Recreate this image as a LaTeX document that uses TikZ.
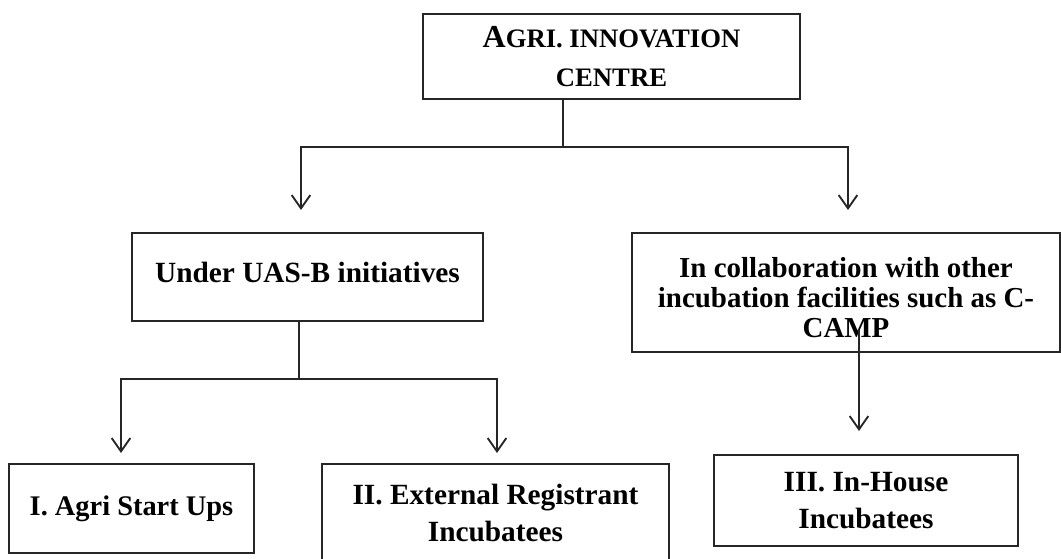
\documentclass[tikz,border=0pt]{standalone}
\usepackage{fontspec}
\setmainfont{Liberation Serif}
\usetikzlibrary{arrows.meta}

\begin{document}
\begin{tikzpicture}[x=0.75pt, y=-0.75pt,
    blk/.style={draw=black!85, line width=1.3pt, align=center, inner sep=0pt, font=\bfseries\fontsize{22}{28}\selectfont},
    arr/.style={draw=black!85, line width=1.3pt, -{Straight Barb[length=10pt, width=14pt, line width=1.4pt]}}]
    \clip (0,0) rectangle (1061,559);
    % boxes
    \node[blk, minimum width=282.75pt, minimum height=63.75pt, font=\bfseries\fontsize{20}{29}\selectfont] (centre) at (611.5,56.5)
        {{\fontsize{24}{29}\selectfont A}GRI. INNOVATION\\CENTRE};
    \node[blk, minimum width=263.25pt, minimum height=66pt, text depth=7.5pt] (uas) at (307.5,277) {Under UAS-B initiatives};
    \node[blk, minimum width=321pt, minimum height=89.25pt, font=\bfseries\fontsize{21.7}{22.5}\selectfont] (collab) at (846,292.5)
        {\rule{0pt}{22pt}In collaboration with other\\incubation facilities such as C-\\CAMP};
    \node[blk, minimum width=183.75pt, minimum height=66.75pt, font=\bfseries\fontsize{21.3}{28}\selectfont] (startup) at (131.5,508.5) {I. Agri Start Ups};
    \node[blk, minimum width=260.25pt, minimum height=73.5pt] (external) at (495.5,513) {II. External Registrant\\Incubatees};
    \node[blk, minimum width=228pt, minimum height=68.25pt] (inhouse) at (866,500.5) {III. In-House\\Incubatees};
    % forks and arrow tips
    \coordinate (fork1) at (563,147);
    \coordinate (fork2) at (299,379);
    \coordinate (uastip) at (301,210);
    \coordinate (collabtip) at (848,210);
    \coordinate (startuptip) at (121,453);
    \coordinate (externaltip) at (497,453);
    \coordinate (inhousefrom) at (859,330);
    \coordinate (inhousetip) at (859,431);
    \draw[draw=black!85, line width=1.3pt] (fork1 |- centre.south) -- (fork1);
    \draw[arr] (fork1) -| (uastip);
    \draw[arr] (fork1) -| (collabtip);
    \draw[draw=black!85, line width=1.3pt] (fork2 |- uas.south) -- (fork2);
    \draw[arr] (fork2) -| (startuptip);
    \draw[arr] (fork2) -| (externaltip);
    \draw[arr] (inhousefrom) -- (inhousetip);
\end{tikzpicture}
\end{document}
